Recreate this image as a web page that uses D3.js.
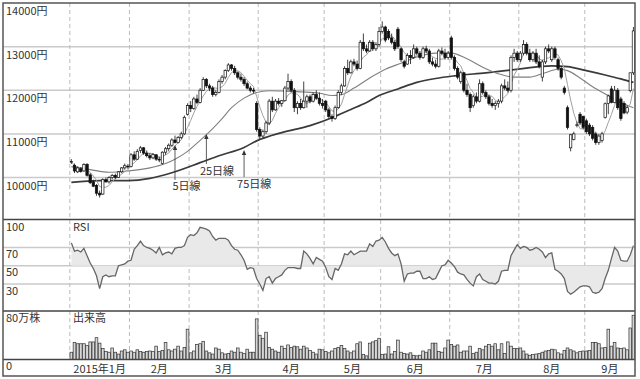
<!DOCTYPE html>
<html><head><meta charset="utf-8">
<script src="https://cdn.jsdelivr.net/npm/d3@7"></script>
<style>
html,body{margin:0;padding:0;background:#fff;}
svg{display:block;}
text{font-family:"Noto Sans CJK JP","Noto Sans",sans-serif;fill:#333;font-size:11px;}
</style></head>
<body><svg id="c" width="640" height="379"></svg>
<script>
// ---------- DATA ----------
const monthLabels = ["2015年1月","2月","3月","4月","5月","6月","7月","8月","9月"];
const monthStarts = [0,19,38,60,81,99,121,143,164];
const priceTicks = [14000,13000,12000,11000,10000];
const rsiTicks = [100,70,50,30];
const volTickTop = "80万株", volTickZero = "0";

const open = [
 10360,10280,10130,10200,10150,10300,10060,9900,9820,9640,9620,9950,9900,10000,10050,10000,10130,10220,10260,
 10250,10520,10420,10620,10680,10560,10500,10450,10520,10420,10320,10580,10660,10740,10860,10800,10920,11000,11450,
 11650,11580,11800,11720,12000,12250,12100,12050,11900,11950,12200,12300,12450,12580,12500,12400,12300,12250,12150,12050,12000,11700,
 11100,10950,11050,11250,11750,11550,11750,11700,11760,12050,12200,12000,11600,11700,11600,11750,11850,11750,11900,11820,11700,
 11750,11550,11400,11350,11600,11950,12100,12500,12400,12650,12600,12500,13100,12950,12900,13100,12950,13050,
 13350,13450,13350,13200,13100,13400,12950,12650,12600,12800,12750,12950,12850,12750,12950,12900,12650,12600,12550,12900,12850,12750,
 13200,12750,12500,12200,12400,12000,11900,11650,11850,11750,12150,11950,11850,11700,11650,11700,11750,12100,12050,12000,12750,12850,
 12700,12850,13050,12850,12700,12850,12650,12300,12650,12950,12700,12950,12700,12500,12050,11600,10680,10870,11200,11450,11400,
 11300,11200,11150,11000,10800,10850,11380,11700,12030,11720,12000,11800,11700,11500,11990,12400];
const high = [
 10420,10320,10250,10240,10330,10330,10100,9950,9850,9700,9980,10000,10030,10080,10090,10150,10240,10320,10310,
 10560,10600,10650,10720,10700,10620,10560,10560,10540,10480,10600,10700,10780,10900,10960,10950,11050,11420,11700,
 11750,11850,11900,12050,12300,12280,12150,12100,12000,12250,12350,12480,12620,12600,12560,12430,12380,12300,12200,12100,12050,11750,
 11150,11100,11300,11800,11850,11800,11820,11780,12100,12380,12250,12050,11750,11800,12200,11900,11900,11950,12000,11950,11800,
 11780,11600,11450,11650,12000,12150,12550,12700,12700,12720,12680,13150,13300,13050,13150,13150,13100,13450,
 13580,13480,13400,13300,13150,13450,12980,12700,12850,12920,13050,13000,12900,13000,13020,12950,12750,12700,12950,12980,12950,12900,
 13250,12800,12550,12450,12420,12150,11950,11900,11950,12250,12200,12000,11900,11800,11750,11800,12150,12250,12200,12800,12950,12900,
 12900,13150,13100,12950,12900,12950,12800,12700,13000,13050,13000,13000,12750,12550,12100,11650,11000,11050,11280,11500,11420,
 11350,11250,11200,11050,11000,11050,11720,11900,12100,12100,12050,11850,11750,11650,12400,13450];
const low = [
 10310,10100,10100,10110,10130,10020,9850,9780,9580,9540,9600,9880,9860,9960,9960,9990,10100,10180,10200,
 10230,10380,10400,10560,10520,10460,10400,10420,10380,10350,10300,10520,10600,10700,10780,10780,10880,10980,11420,
 11500,11550,11680,11700,11980,12050,11980,11850,11860,11930,12150,12250,12420,12450,12350,12250,12200,12100,12020,11950,11930,11050,
 10880,10900,11000,11200,11500,11530,11650,11620,11740,12000,11950,11500,11450,11550,11580,11600,11700,11720,11780,11650,11580,
 11500,11350,11280,11320,11580,11900,12080,12350,12380,12550,12450,12480,12900,12850,12880,12900,12900,13000,
 13300,13100,13150,13050,12900,12950,12650,12500,12580,12600,12720,12800,12700,12720,12850,12600,12550,12500,12520,12800,12700,12700,
 12700,12450,12250,12150,11950,11850,11500,11600,11700,11720,11900,11800,11650,11600,11550,11600,11700,12000,11950,11950,12650,12650,
 12650,12800,12800,12650,12650,12600,12500,12200,12600,12850,12650,12700,12450,12250,11900,11100,10600,10850,11150,11200,11100,
 11000,10950,10850,10750,10750,10800,11350,11450,11700,11700,11550,11300,11450,11450,11950,12350];
const close = [
 10370,10150,10220,10140,10300,10050,9880,9800,9640,9600,9950,9900,10000,10050,10000,10130,10220,10270,10250,
 10520,10420,10600,10680,10560,10500,10450,10530,10420,10400,10580,10660,10740,10860,10800,10920,11000,11380,11650,
 11580,11800,11720,12000,12250,12100,12050,11900,11950,12200,12300,12450,12580,12500,12400,12300,12250,12150,12050,12000,11990,11100,
 10950,11050,11250,11750,11550,11750,11700,11760,12050,12200,12000,11600,11700,11600,11750,11850,11750,11900,11820,11700,11650,
 11550,11400,11350,11600,11950,12100,12500,12400,12650,12600,12500,13100,12950,12900,13100,12950,13050,13350,
 13450,13150,13200,13100,12950,13000,12700,12550,12800,12750,12950,12850,12750,12950,12900,12650,12600,12550,12900,12850,12750,12850,
 12750,12500,12300,12400,12000,11900,11600,11850,11750,12150,11950,11850,11700,11650,11700,11750,12100,12050,12000,12750,12850,12700,
 12850,13050,12850,12700,12850,12650,12550,12650,12950,12900,12950,12750,12500,12300,11950,11150,10980,11000,11210,11250,11150,
 11050,11000,10900,10800,10950,11000,11690,11870,11720,12000,11600,11350,11480,11600,12400,13360];

// volume in 万株
const volume = [
 12,28,26,26,26,23,29,29,36,27,18,13,12,19,12,9,14,16,12,
 14,12,16,13,12,13,14,13,22,13,15,28,16,14,17,22,14,20,50,
 11,14,25,26,30,14,11,9,19,17,11,9,10,14,12,19,12,10,17,12,12,67,
 40,35,45,20,17,14,12,22,18,24,20,22,21,17,22,19,15,12,9,17,16,
 13,11,14,18,20,23,18,14,11,14,26,29,8,6,27,29,31,35,
 8,9,21,9,13,32,12,10,9,11,7,6,7,14,12,16,27,27,13,12,19,32,
 25,22,24,12,14,14,22,10,12,18,16,22,25,22,26,16,26,10,29,22,18,18,
 19,14,9,7,8,9,10,12,14,15,17,16,11,9,15,19,16,14,11,13,14,
 14,15,28,28,26,19,20,50,22,28,19,18,19,16,52,73];

const rsi = [
 75,66,67,65,69,61,53,47,39,25, 38,40,38,39,39,50,51,52,55,56,
 68,72,77,72,70,69,67,64,70,62, 64,65,63,69,70,70,72,81,84,83,
 86,92,91,90,88,82,78,80,80,80, 78,72,68,67,62,56,46,48,47,36,
 30,23,36,38,31,36,38,40,45,48, 48,48,47,47,66,63,58,52,59,57,
 55,48,38,35,47,45,52,63,62,66, 62,64,66,66,66,74,71,77,78,81,
 76,69,64,61,63,52,33,41,42,42, 44,44,36,36,38,35,36,43,50,51,
 56,53,49,43,41,40,35,31,28,38, 41,35,33,31,31,30,33,44,45,45,
 61,67,73,69,71,70,67,68,70,68, 65,59,63,64,46,44,41,36,22,19,
 21,24,27,28,28,27,21,20,21,25, 36,45,58,70,66,56,55,55,62,72];

// moving averages: [trading-day index, price]
const ma25 = [[0,10250],[6,10180],[12,10120],[18,10150],[25,10220],[30,10320],[33,10420],[37,10600],[41,10850],[45,11120],[48,11350],[51,11600],[55,11820],[59,11950],[63,11990],[68,11980],[74,11960],[79,11930],[83,11880],[86,11900],[90,12050],[95,12280],[100,12480],[105,12620],[110,12760],[116,12850],[121,12850],[126,12720],[131,12530],[136,12380],[141,12300],[146,12300],[150,12380],[155,12480],[158,12450],[162,12280],[166,12080],[171,11880],[175,11720],[179,11600]];
const ma75 = [[0,9890],[9,9930],[18,9930],[25,9980],[32,10110],[41,10340],[47,10500],[55,10690],[59,10840],[67,11030],[76,11190],[83,11370],[89,11560],[94,11720],[98,11880],[104,12030],[110,12180],[116,12270],[122,12330],[132,12400],[143,12490],[153,12560],[158,12540],[164,12450],[170,12350],[175,12260],[179,12180]];

const annLabels = ["5日線","25日線","75日線"];
const annIndex  = [33,43,55];
const annTip    = [10745,10997,10630];
const annBase   = [9943,10309,10011];

// ---------- CHART ----------
const N = close.length;
const svg = d3.select("#c");
const L=3, R=635, T=3, B=376;
const mainBottom = 219.5, rsiSep = 311, volBase = 359.5;

const xe = d3.scaleLinear().domain([0, N]).range([69.8, 635]);
const xc = i => xe(i + 0.5);
const yP = d3.scaleLinear().domain([10000,14000]).range([177.5,3]);
const yR = d3.scaleLinear().domain([0,100]).range([311.5,220]);
const yV = d3.scaleLinear().domain([0,80]).range([volBase,311]);

svg.append("rect").attr("width",640).attr("height",379).attr("fill","#fff");

// grid lines
svg.append("g").selectAll("line").data(priceTicks.filter(v=>v<14000)).join("line")
  .attr("x1",L).attr("x2",R).attr("y1",d=>yP(d)).attr("y2",d=>yP(d))
  .attr("stroke","#cacaca").attr("stroke-width",1.5);
svg.append("g").selectAll("line").data(rsiTicks.filter(v=>v<100)).join("line")
  .attr("x1",L).attr("x2",R).attr("y1",d=>yR(d)).attr("y2",d=>yR(d))
  .attr("stroke","#cacaca").attr("stroke-width",1.5);

// month dashed lines
svg.append("g").selectAll("line").data(monthStarts).join("line")
  .attr("x1",d=>xe(d)).attr("x2",d=>xe(d)).attr("y1",T).attr("y2",volBase)
  .attr("stroke","#bdbdbd").attr("stroke-width",1).attr("stroke-dasharray","4,3");

// RSI
const idx = d3.range(N);
svg.append("path").datum(idx)
  .attr("d", d3.area().x(i=>xc(i)).y0(yR(50)).y1(i=>yR(rsi[i])))
  .attr("fill","#e9e9e9");
svg.append("path").datum(idx)
  .attr("d", d3.line().x(i=>xc(i)).y(i=>yR(rsi[i])))
  .attr("fill","none").attr("stroke","#666").attr("stroke-width",1.3);

// volume
svg.append("g").selectAll("rect").data(idx).join("rect")
  .attr("x",i=>xc(i)-1.35).attr("width",2.7)
  .attr("y",i=>yV(volume[i])).attr("height",i=>volBase-yV(volume[i]))
  .attr("fill","#d6d6d6").attr("stroke","#333").attr("stroke-width",0.7);

// moving averages
const ma5 = idx.map(i => d3.mean(close.slice(Math.max(0,i-4), i+1)));
const clip = svg.append("clipPath").attr("id","mc").append("rect")
  .attr("x",L).attr("y",T).attr("width",R-L).attr("height",mainBottom-T);
const mg = svg.append("g").attr("clip-path","url(#mc)");
mg.append("path").datum(ma75)
  .attr("d", d3.line().x(d=>xc(d[0])).y(d=>yP(d[1])).curve(d3.curveMonotoneX))
  .attr("fill","none").attr("stroke","#3a3a3a").attr("stroke-width",1.7);
mg.append("path").datum(ma25)
  .attr("d", d3.line().x(d=>xc(d[0])).y(d=>yP(d[1])).curve(d3.curveMonotoneX))
  .attr("fill","none").attr("stroke","#808080").attr("stroke-width",1.1);
mg.append("path").datum(idx)
  .attr("d", d3.line().x(i=>xc(i)).y(i=>yP(ma5[i])))
  .attr("fill","none").attr("stroke","#a0a0a0").attr("stroke-width",1);

// candles
const cg = svg.append("g");
cg.selectAll("line").data(idx).join("line")
  .attr("x1",i=>xc(i)).attr("x2",i=>xc(i))
  .attr("y1",i=>yP(high[i])).attr("y2",i=>yP(low[i]))
  .attr("stroke","#111").attr("stroke-width",0.8);
const bw = 2.4;
cg.selectAll("rect").data(idx).join("rect")
  .attr("x",i=>xc(i)-bw/2).attr("width",bw)
  .attr("y",i=>yP(Math.max(open[i],close[i])))
  .attr("height",i=>Math.max(0.8, Math.abs(yP(open[i])-yP(close[i]))))
  .attr("fill",i=>close[i]>=open[i] ? "#fff" : "#111")
  .attr("stroke","#111").attr("stroke-width",0.7);

// separators and frame
[mainBottom, rsiSep, volBase].forEach(y=>{
  svg.append("line").attr("x1",L).attr("x2",R).attr("y1",y).attr("y2",y)
    .attr("stroke","#444").attr("stroke-width",1.3);
});
svg.append("rect").attr("x",L).attr("y",T).attr("width",R-L).attr("height",B-T)
  .attr("fill","none").attr("stroke","#555").attr("stroke-width",1.5);

// labels
svg.append("g").selectAll("text").data(priceTicks).join("text")
  .attr("x",6).attr("y",d=>yP(d)+12).text(d=>d+"円");
svg.append("g").selectAll("text").data(rsiTicks).join("text")
  .attr("x",6).attr("y",d=>yR(d)+10.5).text(d=>d);
svg.append("text").attr("x",73).attr("y",231).text("RSI");
svg.append("text").attr("x",6).attr("y",yV(80)+11).text(volTickTop);
svg.append("text").attr("x",73).attr("y",yV(80)+11).text("出来高");
svg.append("text").attr("x",6).attr("y",370).text(volTickZero);

// month labels
svg.append("g").selectAll("text").data(monthLabels).join("text")
  .attr("x",(d,k)=>{
    const s = monthStarts[k], e = (k+1<monthStarts.length ? monthStarts[k+1] : N) - 1;
    return (xc(s)+xc(e))/2;
  })
  .attr("y",373).attr("text-anchor","middle").text(d=>d);

// annotations
const textOff = [2.5, 6.5, 7];
annLabels.forEach((lab,k)=>{
  const ax = xc(annIndex[k]);
  const yt = yP(annTip[k]), yb = yP(annBase[k]);
  svg.append("line").attr("x1",ax).attr("x2",ax).attr("y1",yt+4).attr("y2",yb)
    .attr("stroke","#333").attr("stroke-width",0.8);
  svg.append("path").attr("d",`M${ax},${yt} L${ax-2.2},${yt+5} L${ax+2.2},${yt+5} Z`).attr("fill","#333");
  svg.append("text").attr("x",ax-textOff[k]).attr("y",yb+10.5).text(lab);
});
</script>
</body></html>
